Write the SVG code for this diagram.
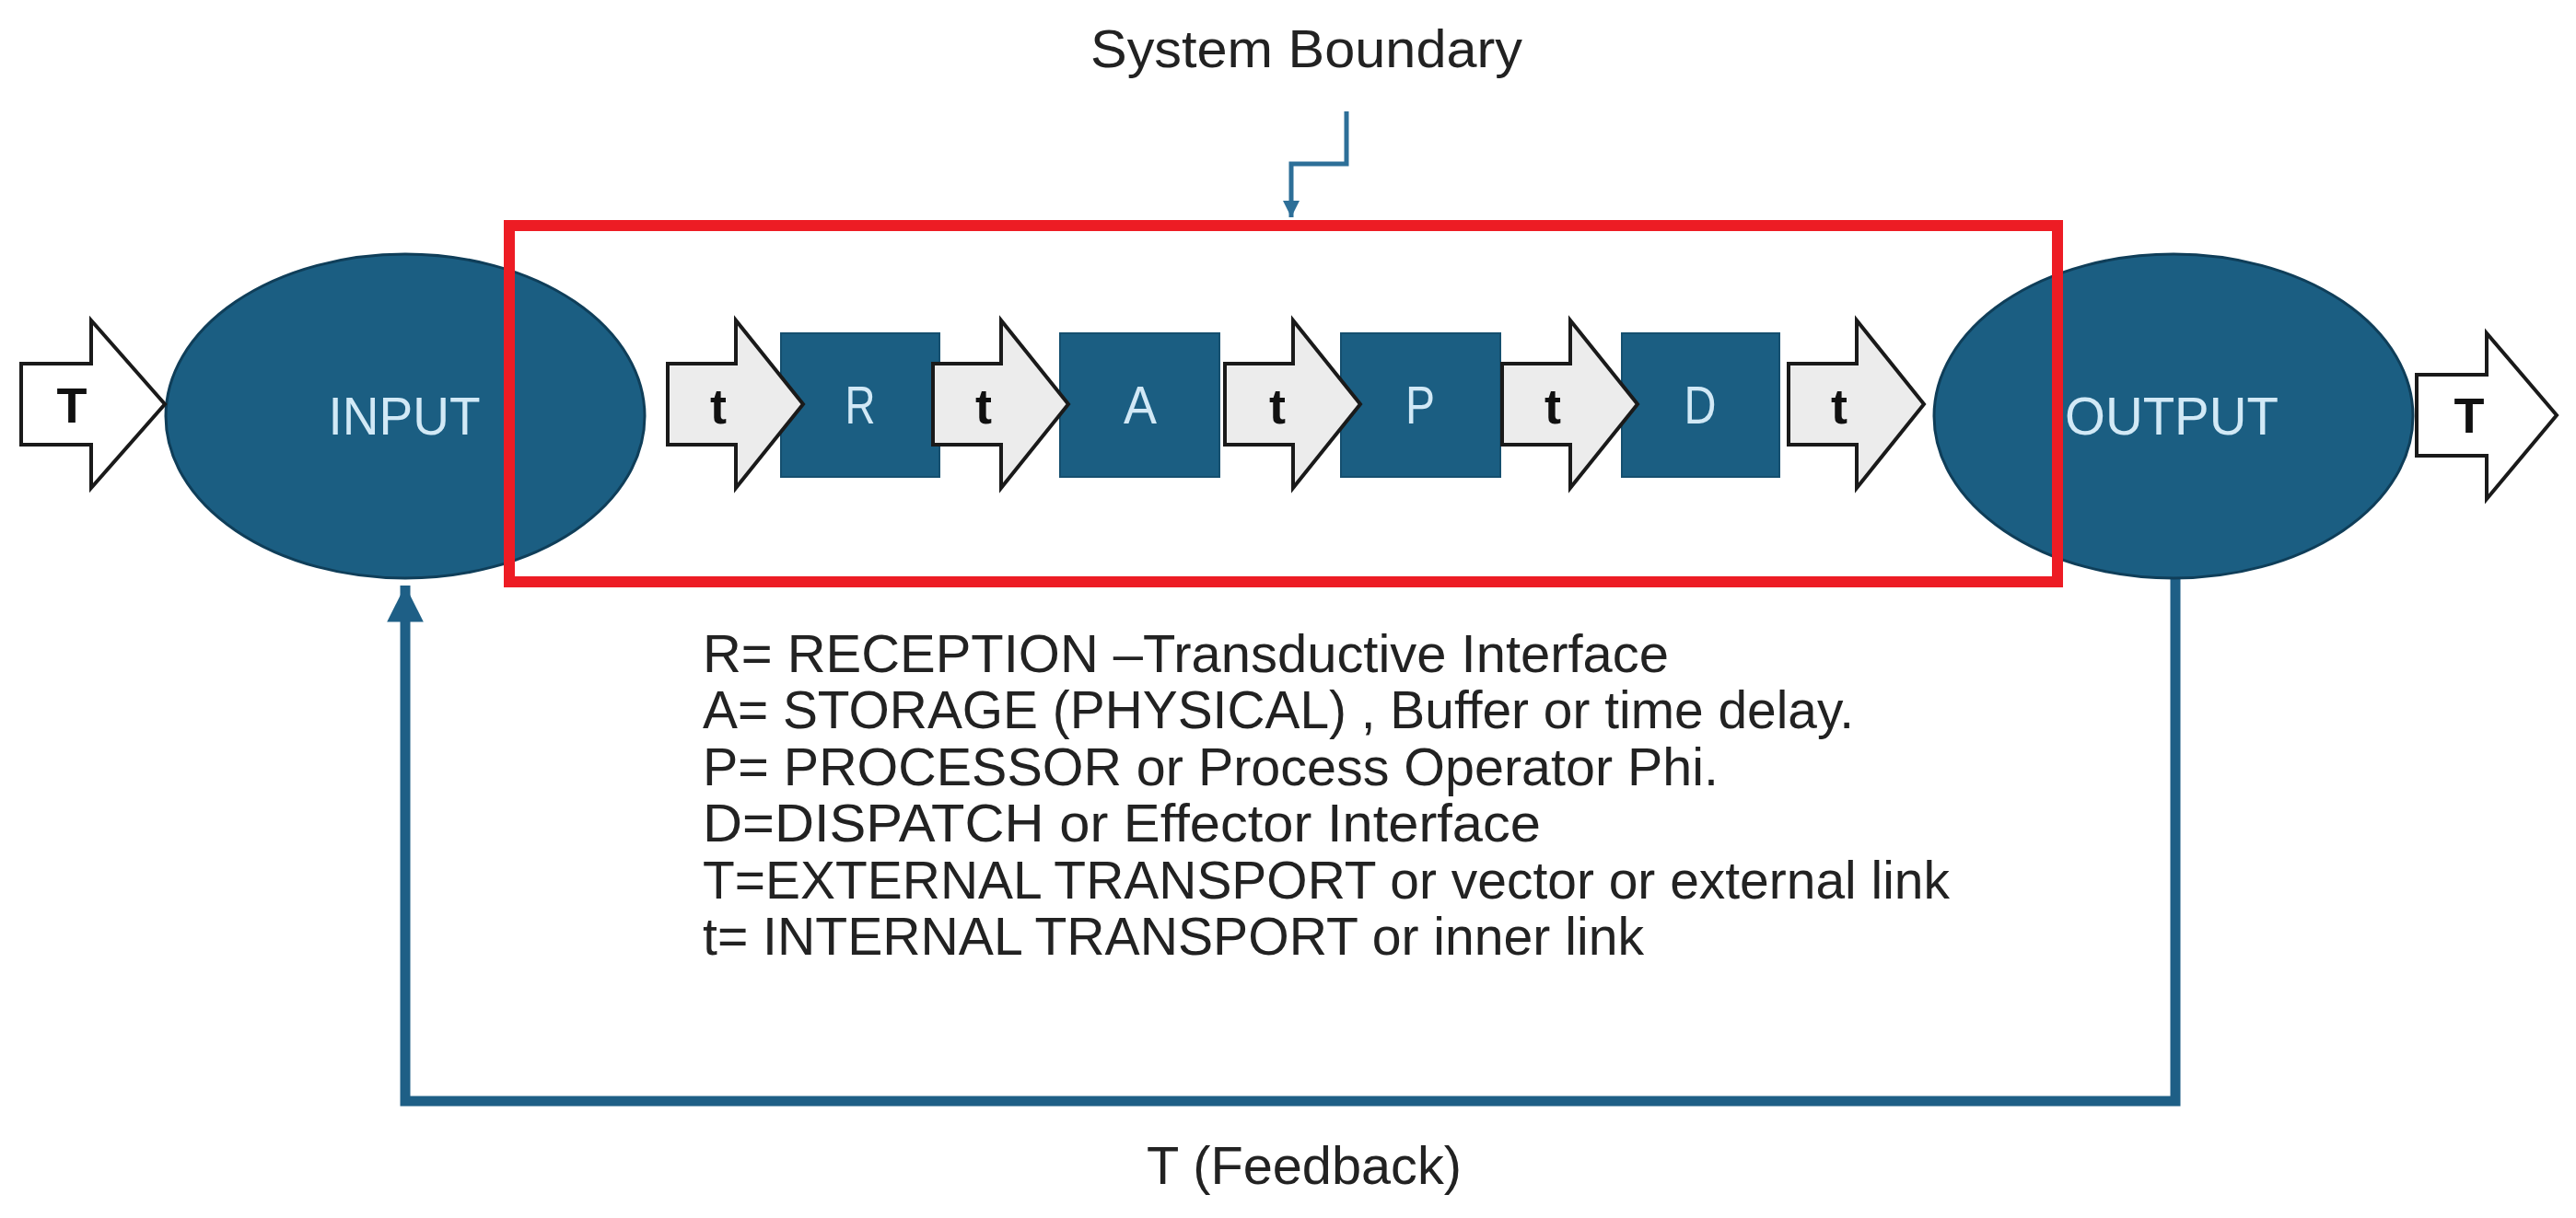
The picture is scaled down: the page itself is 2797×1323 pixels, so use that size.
<svg xmlns="http://www.w3.org/2000/svg" xmlns:xlink="http://www.w3.org/1999/xlink" width="2797" height="1323" viewBox="0 0 2797 1323">
<style>
.lbl{font-family:"Liberation Sans",Arial,sans-serif;fill:#222;font-size:58px}
.light{font-family:"Liberation Sans",Arial,sans-serif;fill:#d2e9f6;font-size:58px;text-anchor:middle}
.bold{font-family:"Liberation Sans",Arial,sans-serif;font-weight:bold;fill:#111;font-size:54px;text-anchor:middle}
.blob{fill:#1b5e82;stroke:#0f3e59;stroke-width:3}
.box{fill:#1b5e82;stroke:#154f6f;stroke-width:2}
.tarr{fill:#ececec;stroke:#1a1a1a;stroke-width:4;stroke-linejoin:miter}
.Tarr{fill:#ffffff;stroke:#1a1a1a;stroke-width:4;stroke-linejoin:miter}
</style>
<defs>
<path id="arr" d="M0,-44 H74 V-91 L147,0 L74,91 V44 H0 Z"/>
<marker id="fbhead" viewBox="0 0 10 10" refX="10" refY="5" markerWidth="4" markerHeight="3.6" orient="auto" markerUnits="strokeWidth">
<path d="M0,0 L10,5 L0,10 Z" fill="#1e5f86"/>
</marker>
<marker id="sbhead" viewBox="0 0 10 10" refX="10" refY="5" markerWidth="4" markerHeight="3.6" orient="auto" markerUnits="strokeWidth">
<path d="M0,0 L10,5 L0,10 Z" fill="#2d6f98"/>
</marker>
</defs>
<rect width="2797" height="1323" fill="#ffffff"/>

<g id="connectors">
<path id="feedback" d="M2362,626 V1196 H440 V636" fill="none" stroke="#1e5f86" stroke-width="11" marker-end="url(#fbhead)"/>
<path id="boundary-pointer" d="M1462,121 V178 H1402 V236" fill="none" stroke="#2d6f98" stroke-width="5" marker-end="url(#sbhead)"/>
</g>

<g id="input">
<ellipse class="blob" cx="440" cy="452" rx="260" ry="176"/>
<text class="light" x="439" y="472" textLength="165" lengthAdjust="spacingAndGlyphs">INPUT</text>
</g>
<g id="output">
<ellipse class="blob" cx="2360" cy="452" rx="260" ry="176"/>
<text class="light" x="2358" y="472" textLength="232" lengthAdjust="spacingAndGlyphs">OUTPUT</text>
</g>

<g id="T-in">
<polygon class="Tarr" points="23,395 99,395 99,348 179,439 99,530 99,483 23,483"/>
<text class="bold" x="78" y="459">T</text>
</g>
<g id="T-out">
<polygon class="Tarr" points="2624,407 2700,407 2700,362 2776,451 2700,542 2700,495 2624,495"/>
<text class="bold" x="2681" y="470">T</text>
</g>

<g id="R">
<rect class="box" x="848" y="362" width="172" height="156"/>
<text class="light" x="934" y="460" textLength="33" lengthAdjust="spacingAndGlyphs">R</text>
</g>
<g id="A">
<rect class="box" x="1151" y="362" width="173" height="156"/>
<text class="light" x="1238" y="460" textLength="36" lengthAdjust="spacingAndGlyphs">A</text>
</g>
<g id="P">
<rect class="box" x="1456" y="362" width="173" height="156"/>
<text class="light" x="1542" y="460" textLength="32" lengthAdjust="spacingAndGlyphs">P</text>
</g>
<g id="D">
<rect class="box" x="1761" y="362" width="171" height="156"/>
<text class="light" x="1846" y="460" textLength="35" lengthAdjust="spacingAndGlyphs">D</text>
</g>

<g id="t1"><use xlink:href="#arr" href="#arr" class="tarr" x="725" y="439"/><text class="bold" x="780" y="460">t</text></g>
<g id="t2"><use xlink:href="#arr" href="#arr" class="tarr" x="1013" y="439"/><text class="bold" x="1068" y="460">t</text></g>
<g id="t3"><use xlink:href="#arr" href="#arr" class="tarr" x="1330" y="439"/><text class="bold" x="1387" y="460">t</text></g>
<g id="t4"><use xlink:href="#arr" href="#arr" class="tarr" x="1631" y="439"/><text class="bold" x="1686" y="460">t</text></g>
<g id="t5"><use xlink:href="#arr" href="#arr" class="tarr" x="1942" y="439"/><text class="bold" x="1997" y="460">t</text></g>

<g id="system-boundary">
<rect x="553" y="245" width="1681" height="387" fill="none" stroke="#ed1c24" stroke-width="12"/>
<text class="lbl" x="1184" y="73" textLength="469" lengthAdjust="spacingAndGlyphs">System Boundary</text>
</g>

<g id="legend">
<text class="lbl" x="763" y="730" textLength="1049" lengthAdjust="spacingAndGlyphs">R= RECEPTION –Transductive Interface</text>
<text class="lbl" x="763" y="791" textLength="1250" lengthAdjust="spacingAndGlyphs">A= STORAGE (PHYSICAL) , Buffer or time delay.</text>
<text class="lbl" x="763" y="853" textLength="1103" lengthAdjust="spacingAndGlyphs">P= PROCESSOR or Process Operator Phi.</text>
<text class="lbl" x="763" y="914" textLength="910" lengthAdjust="spacingAndGlyphs">D=DISPATCH or Effector Interface</text>
<text class="lbl" x="763" y="976" textLength="1354" lengthAdjust="spacingAndGlyphs">T=EXTERNAL TRANSPORT or vector or external link</text>
<text class="lbl" x="763" y="1037" textLength="1022" lengthAdjust="spacingAndGlyphs">t= INTERNAL TRANSPORT or inner link</text>
</g>

<g id="feedback-label">
<text class="lbl" x="1245" y="1286" textLength="342" lengthAdjust="spacingAndGlyphs">T (Feedback)</text>
</g>
</svg>
